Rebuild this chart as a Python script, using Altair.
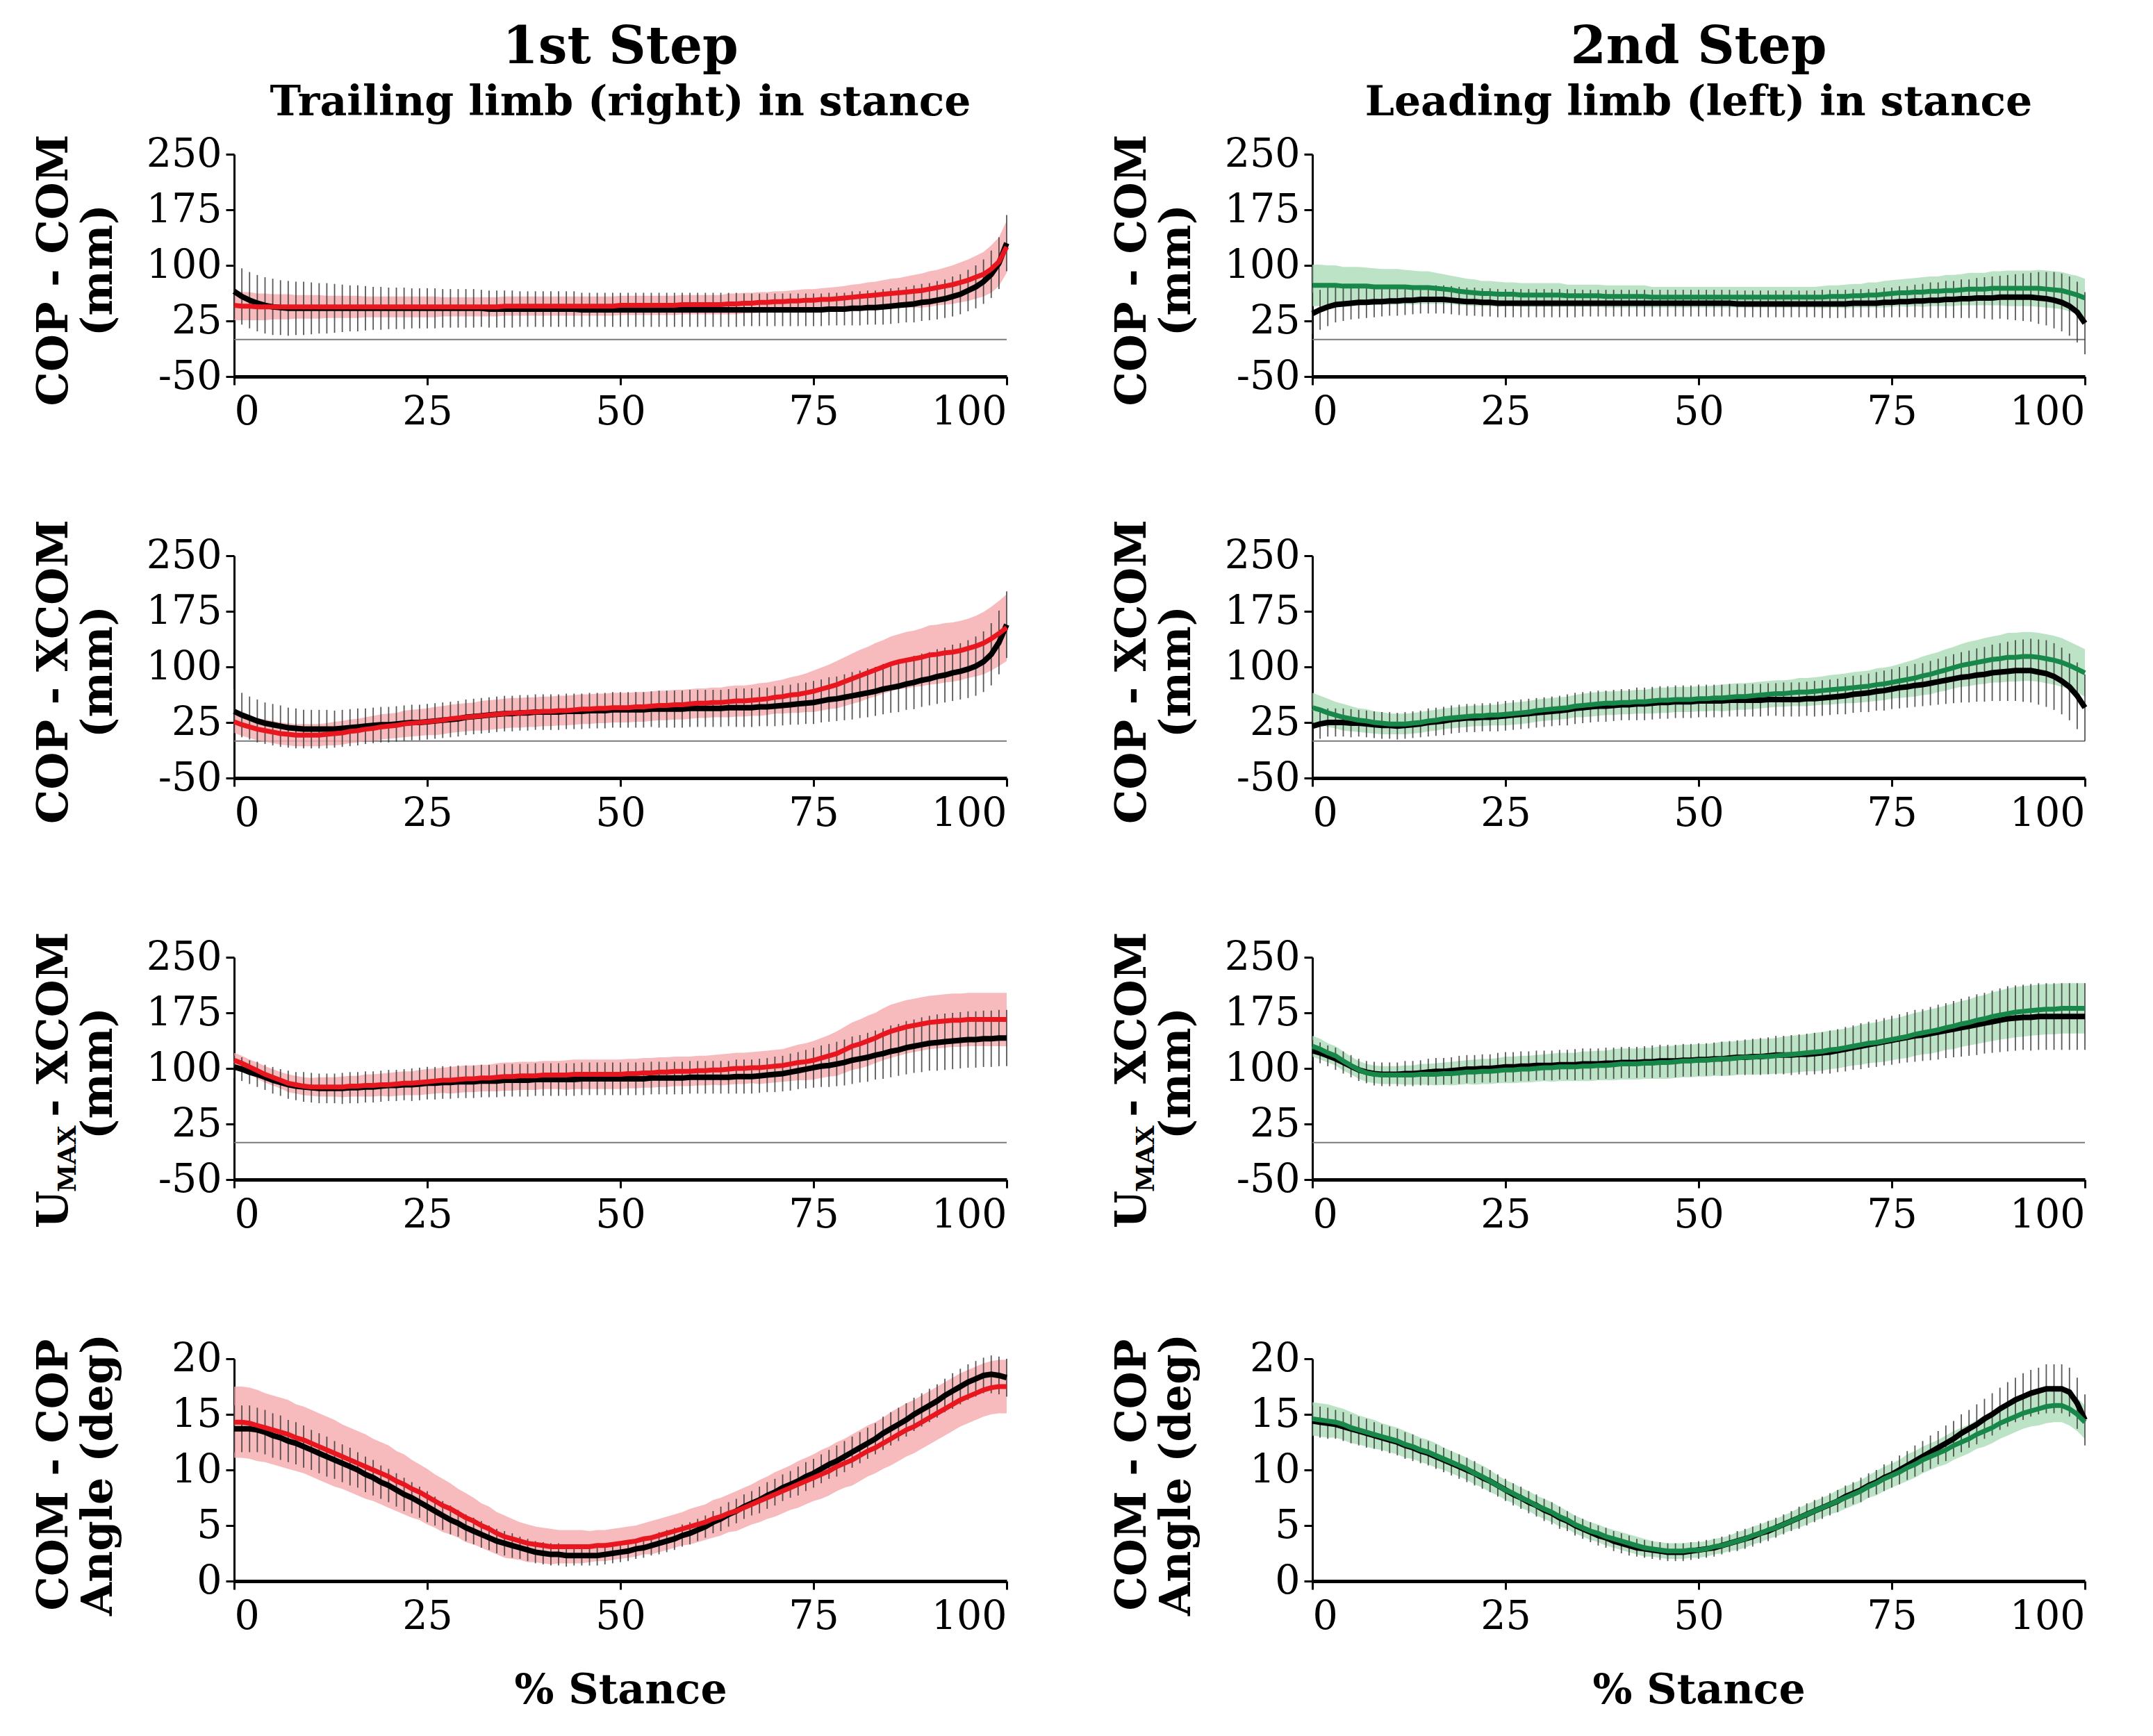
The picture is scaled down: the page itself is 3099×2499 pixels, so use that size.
import pandas as pd
import altair as alt

FONT = "DejaVu Serif"
RED = "#e8161e"
RED_BAND = "#f5a9ad"
GREEN = "#17874a"
GREEN_BAND = "#acdcb8"

stance = list(range(101))

# ---------------- COP - COM (mm) ----------------
cop_com_1_black = [65, 58, 53, 49, 46, 44, 43, 42, 42, 42,
                   42, 42, 42, 42, 42, 42, 42, 42, 42, 42,
                   42, 42, 42, 42, 42, 42, 42, 42, 42, 42,
                   42, 42, 42, 41, 41, 41, 41, 41, 41, 41,
                   41, 41, 41, 41, 41, 40, 40, 40, 40, 40,
                   40, 40, 40, 40, 40, 40, 40, 40, 40, 40,
                   40, 40, 40, 40, 40, 40, 40, 40, 40, 40,
                   40, 40, 40, 40, 40, 40, 40, 41, 41, 41,
                   42, 42, 43, 43, 44, 45, 46, 47, 48, 50,
                   51, 53, 55, 58, 61, 66, 71, 78, 88, 103,
                   130]
cop_com_1_black_sd = [38, 38, 38, 38, 38, 38, 37, 37, 36, 36,
                      35, 34, 34, 33, 32, 31, 31, 30, 29, 29,
                      28, 28, 28, 27, 27, 27, 27, 26, 26, 26,
                      26, 26, 25, 25, 25, 25, 25, 24, 24, 24,
                      24, 24, 24, 24, 24, 23, 23, 23, 23, 23,
                      23, 23, 23, 23, 23, 23, 23, 23, 23, 23,
                      23, 23, 23, 23, 23, 23, 22, 22, 22, 22,
                      22, 22, 22, 22, 22, 22, 22, 22, 22, 22,
                      23, 23, 23, 23, 24, 24, 24, 24, 25, 25,
                      25, 26, 26, 27, 27, 28, 29, 30, 32, 35,
                      38]
cop_com_1_red = [46, 45, 45, 44, 44, 44, 44, 44, 44, 44,
                 44, 44, 44, 44, 44, 44, 44, 44, 44, 44,
                 44, 44, 44, 44, 44, 44, 44, 44, 44, 44,
                 44, 44, 44, 44, 44, 45, 45, 45, 45, 45,
                 45, 45, 45, 45, 45, 45, 45, 45, 45, 45,
                 46, 46, 46, 46, 46, 46, 46, 46, 47, 47,
                 47, 47, 47, 47, 48, 48, 49, 49, 50, 50,
                 51, 51, 52, 52, 53, 53, 54, 54, 55, 56,
                 57, 58, 59, 60, 61, 62, 63, 64, 65, 66,
                 68, 70, 72, 74, 77, 80, 84, 88, 95, 105,
                 125]
cop_com_1_red_sd = [20, 19, 19, 18, 18, 17, 17, 17, 16, 16,
                    16, 16, 15, 15, 15, 15, 15, 14, 14, 14,
                    14, 14, 14, 14, 14, 14, 14, 13, 13, 13,
                    13, 13, 13, 13, 13, 13, 13, 13, 13, 13,
                    13, 13, 13, 13, 13, 13, 13, 13, 13, 13,
                    13, 13, 13, 13, 13, 13, 13, 13, 13, 13,
                    13, 13, 13, 13, 14, 14, 14, 14, 14, 14,
                    14, 14, 14, 15, 15, 15, 15, 16, 16, 16,
                    17, 17, 18, 18, 19, 20, 20, 21, 22, 23,
                    24, 24, 25, 26, 27, 28, 29, 30, 32, 33,
                    35]
cop_com_2_black = [35, 40, 44, 47, 48, 49, 50, 50, 51, 51,
                   52, 52, 53, 53, 54, 54, 54, 54, 53, 52,
                   51, 51, 50, 50, 49, 49, 49, 49, 49, 49,
                   49, 49, 49, 49, 49, 49, 49, 49, 49, 49,
                   49, 49, 49, 49, 49, 49, 49, 49, 49, 49,
                   49, 49, 49, 49, 49, 48, 48, 48, 48, 48,
                   48, 48, 48, 48, 48, 48, 48, 48, 48, 48,
                   49, 49, 49, 49, 50, 50, 51, 51, 52, 52,
                   53, 53, 54, 54, 55, 55, 56, 56, 56, 57,
                   57, 57, 57, 57, 56, 55, 53, 50, 45, 37,
                   22]
cop_com_2_black_sd = [28, 27, 26, 24, 23, 22, 22, 21, 21, 20,
                      20, 20, 20, 19, 19, 19, 19, 19, 19, 19,
                      19, 19, 19, 19, 19, 19, 19, 19, 19, 19,
                      19, 19, 19, 19, 19, 18, 18, 18, 18, 18,
                      18, 18, 18, 18, 18, 18, 18, 18, 18, 18,
                      18, 18, 18, 18, 18, 18, 18, 18, 18, 18,
                      18, 18, 18, 18, 18, 18, 19, 19, 19, 19,
                      19, 19, 19, 20, 20, 20, 21, 21, 22, 23,
                      24, 24, 25, 25, 26, 26, 27, 28, 29, 29,
                      30, 31, 32, 33, 35, 36, 38, 39, 40, 41,
                      42]
cop_com_2_green = [73, 73, 73, 73, 72, 72, 72, 72, 71, 71,
                   71, 71, 71, 70, 70, 70, 69, 68, 67, 65,
                   64, 63, 62, 62, 61, 61, 61, 60, 60, 60,
                   60, 60, 60, 59, 59, 59, 59, 59, 58, 58,
                   58, 58, 58, 58, 57, 57, 57, 57, 57, 57,
                   57, 57, 57, 57, 57, 57, 57, 57, 57, 57,
                   57, 57, 57, 57, 57, 57, 57, 58, 58, 58,
                   59, 59, 60, 60, 61, 62, 63, 63, 64, 64,
                   65, 65, 66, 66, 67, 68, 68, 68, 69, 69,
                   69, 69, 69, 69, 69, 68, 67, 66, 63, 60,
                   56]
cop_com_2_green_sd = [28, 28, 27, 27, 26, 26, 26, 25, 25, 24,
                      24, 24, 23, 23, 22, 22, 21, 20, 19, 19,
                      18, 18, 17, 17, 17, 16, 16, 16, 16, 16,
                      16, 16, 16, 15, 15, 15, 15, 15, 15, 15,
                      15, 15, 15, 15, 14, 14, 14, 14, 14, 14,
                      14, 14, 14, 14, 14, 14, 14, 14, 14, 14,
                      14, 14, 14, 14, 14, 14, 15, 15, 15, 16,
                      16, 16, 17, 17, 18, 18, 18, 19, 19, 20,
                      20, 20, 21, 21, 21, 22, 22, 22, 23, 23,
                      24, 24, 24, 24, 25, 25, 25, 25, 25, 26,
                      26]

# ---------------- COP - XCOM (mm) ----------------
cop_xcom_1_black = [40, 35, 31, 27, 24, 22, 20, 18, 17, 16,
                    16, 16, 16, 16, 17, 18, 19, 20, 21, 22,
                    22, 23, 24, 25, 25, 26, 27, 28, 29, 30,
                    32, 33, 34, 35, 36, 37, 37, 38, 38, 39,
                    39, 39, 39, 40, 40, 40, 41, 41, 41, 42,
                    42, 42, 42, 42, 43, 43, 43, 43, 43, 44,
                    44, 44, 44, 44, 45, 45, 45, 45, 46, 46,
                    47, 48, 49, 50, 51, 52, 54, 56, 57, 59,
                    61, 63, 65, 67, 70, 72, 74, 77, 79, 82,
                    84, 87, 89, 92, 94, 97, 101, 107, 117, 133,
                    157]
cop_xcom_1_black_sd = [30, 30, 29, 29, 28, 28, 28, 27, 27, 26,
                       26, 26, 26, 25, 25, 25, 25, 24, 24, 24,
                       24, 24, 24, 24, 24, 24, 24, 24, 24, 24,
                       24, 24, 24, 24, 24, 24, 24, 24, 24, 24,
                       24, 24, 24, 24, 24, 24, 24, 24, 24, 24,
                       24, 24, 24, 24, 24, 25, 25, 25, 25, 25,
                       25, 25, 25, 25, 25, 26, 26, 26, 26, 26,
                       27, 27, 27, 28, 28, 29, 29, 30, 30, 31,
                       32, 32, 33, 33, 34, 34, 35, 35, 36, 36,
                       36, 37, 37, 38, 38, 39, 40, 41, 42, 43,
                       45]
cop_xcom_1_red = [26, 22, 19, 16, 14, 12, 10, 9, 8, 8,
                  8, 8, 9, 10, 11, 13, 14, 16, 17, 19,
                  20, 21, 23, 24, 25, 26, 27, 28, 30, 31,
                  32, 33, 34, 35, 36, 37, 38, 38, 39, 39,
                  40, 40, 41, 41, 42, 43, 43, 44, 44, 45,
                  45, 45, 46, 46, 47, 48, 48, 49, 49, 50,
                  51, 51, 52, 52, 53, 54, 54, 55, 56, 57,
                  59, 60, 62, 63, 65, 67, 70, 73, 76, 80,
                  84, 88, 92, 96, 100, 104, 107, 109, 111, 113,
                  116, 117, 119, 120, 122, 125, 128, 132, 138, 145,
                  153]
cop_xcom_1_red_sd = [15, 15, 15, 15, 15, 15, 15, 15, 15, 15,
                     15, 15, 15, 16, 16, 16, 16, 16, 17, 17,
                     17, 17, 18, 18, 18, 18, 19, 19, 19, 19,
                     19, 19, 20, 20, 20, 20, 20, 20, 20, 20,
                     20, 20, 20, 20, 20, 20, 20, 20, 20, 20,
                     20, 20, 20, 20, 20, 20, 20, 20, 20, 20,
                     20, 20, 20, 20, 21, 21, 21, 21, 22, 22,
                     22, 23, 24, 25, 26, 28, 29, 30, 32, 33,
                     34, 35, 35, 36, 36, 37, 37, 38, 38, 39,
                     40, 40, 40, 40, 40, 40, 41, 42, 43, 44,
                     45]
cop_xcom_2_black = [20, 23, 25, 25, 25, 24, 24, 23, 22, 21,
                    21, 20, 21, 22, 23, 25, 26, 27, 29, 30,
                    31, 31, 32, 32, 33, 34, 35, 36, 37, 38,
                    39, 40, 41, 42, 44, 45, 46, 47, 47, 48,
                    49, 49, 50, 50, 51, 52, 52, 53, 53, 53,
                    54, 54, 54, 54, 55, 55, 55, 55, 55, 56,
                    56, 56, 56, 56, 57, 57, 58, 59, 60, 61,
                    63, 64, 65, 67, 68, 70, 72, 73, 75, 76,
                    78, 80, 82, 84, 86, 87, 89, 90, 92, 93,
                    94, 95, 95, 95, 93, 91, 87, 81, 73, 61,
                    45]
cop_xcom_2_black_sd = [20, 20, 19, 19, 19, 19, 18, 18, 18, 18,
                       18, 18, 18, 18, 18, 19, 19, 19, 19, 19,
                       19, 19, 19, 19, 20, 20, 20, 20, 20, 20,
                       20, 20, 20, 21, 21, 21, 21, 21, 21, 21,
                       21, 21, 22, 22, 22, 22, 22, 22, 22, 22,
                       22, 22, 22, 22, 22, 22, 22, 22, 22, 22,
                       22, 23, 23, 23, 23, 24, 24, 24, 24, 25,
                       25, 25, 26, 26, 27, 27, 28, 28, 29, 29,
                       30, 31, 32, 33, 34, 35, 36, 37, 38, 39,
                       40, 41, 42, 43, 44, 45, 45, 45, 45, 45,
                       45]
cop_xcom_2_green = [45, 42, 38, 35, 32, 30, 28, 27, 25, 24,
                    23, 23, 23, 24, 25, 27, 28, 30, 31, 32,
                    33, 34, 34, 35, 35, 36, 37, 38, 39, 41,
                    42, 43, 44, 45, 47, 48, 49, 50, 51, 51,
                    52, 52, 53, 53, 54, 55, 55, 56, 56, 56,
                    57, 57, 58, 58, 59, 60, 60, 61, 62, 63,
                    64, 64, 65, 66, 66, 67, 68, 69, 70, 71,
                    72, 73, 74, 76, 77, 79, 81, 83, 85, 88,
                    90, 93, 96, 99, 102, 104, 106, 108, 110, 111,
                    113, 113, 114, 114, 113, 111, 109, 106, 102, 97,
                    92]
cop_xcom_2_green_sd = [20, 19, 19, 18, 18, 17, 16, 16, 15, 15,
                       14, 14, 14, 14, 14, 14, 14, 14, 14, 14,
                       14, 14, 14, 14, 14, 15, 15, 15, 15, 15,
                       15, 15, 15, 15, 15, 16, 16, 16, 16, 16,
                       16, 16, 16, 16, 17, 17, 17, 17, 17, 17,
                       17, 17, 17, 18, 18, 18, 18, 18, 18, 18,
                       18, 18, 18, 19, 19, 19, 19, 20, 20, 20,
                       21, 21, 21, 22, 22, 22, 23, 24, 25, 26,
                       27, 27, 28, 28, 29, 30, 30, 31, 31, 32,
                       33, 33, 33, 33, 33, 33, 33, 33, 32, 32,
                       32]

# ---------------- UMAX - XCOM (mm) ----------------
umax_1_black = [102, 99, 95, 92, 88, 84, 81, 78, 76, 75,
                74, 73, 73, 73, 73, 74, 74, 75, 75, 76,
                77, 77, 78, 78, 79, 80, 80, 81, 81, 82,
                82, 82, 83, 83, 83, 84, 84, 84, 84, 85,
                85, 85, 85, 85, 85, 86, 86, 86, 86, 86,
                86, 86, 86, 86, 87, 87, 87, 87, 87, 88,
                88, 88, 88, 88, 88, 89, 89, 89, 90, 91,
                92, 93, 95, 97, 99, 101, 103, 104, 106, 108,
                111, 113, 115, 118, 120, 123, 125, 128, 130, 132,
                134, 135, 136, 137, 138, 139, 139, 140, 140, 141,
                141]
umax_1_black_sd = [15, 16, 16, 17, 17, 18, 18, 19, 19, 20,
                   20, 20, 20, 20, 21, 21, 21, 21, 21, 21,
                   21, 21, 21, 22, 22, 22, 22, 22, 22, 22,
                   22, 22, 22, 22, 22, 22, 22, 22, 22, 22,
                   22, 22, 22, 22, 22, 22, 22, 22, 22, 22,
                   22, 22, 22, 22, 22, 22, 22, 22, 22, 22,
                   22, 22, 22, 22, 22, 23, 23, 23, 23, 23,
                   24, 24, 25, 25, 26, 27, 28, 29, 30, 31,
                   32, 32, 33, 33, 34, 35, 35, 36, 36, 37,
                   37, 38, 38, 38, 38, 38, 38, 38, 38, 38,
                   38]
umax_1_red = [111, 107, 102, 97, 92, 88, 84, 80, 78, 76,
              75, 75, 75, 75, 75, 76, 76, 77, 77, 78,
              78, 79, 80, 80, 81, 82, 83, 84, 84, 85,
              86, 86, 87, 87, 88, 89, 89, 90, 90, 90,
              91, 91, 91, 91, 92, 92, 92, 92, 92, 92,
              92, 93, 93, 94, 94, 95, 95, 96, 96, 96,
              97, 97, 98, 98, 99, 100, 100, 101, 101, 102,
              103, 104, 106, 108, 109, 111, 114, 117, 120, 125,
              130, 133, 137, 141, 146, 150, 153, 156, 158, 160,
              162, 163, 164, 165, 165, 166, 166, 166, 166, 166,
              166]
umax_1_red_sd = [10, 10, 10, 11, 11, 11, 11, 12, 12, 12,
                 12, 13, 13, 13, 14, 14, 14, 15, 15, 15,
                 16, 16, 16, 16, 17, 17, 17, 17, 18, 18,
                 18, 18, 18, 18, 19, 19, 19, 19, 19, 19,
                 19, 19, 19, 20, 20, 20, 20, 20, 20, 20,
                 20, 20, 20, 20, 20, 20, 20, 20, 20, 20,
                 20, 20, 20, 21, 21, 21, 21, 21, 22, 22,
                 22, 22, 23, 24, 25, 26, 27, 28, 30, 31,
                 32, 33, 34, 34, 35, 36, 36, 36, 36, 36,
                 36, 36, 36, 36, 36, 36, 36, 36, 36, 36,
                 36]
umax_2_black = [124, 121, 117, 113, 108, 103, 98, 95, 93, 92,
                92, 92, 93, 93, 94, 95, 96, 96, 97, 98,
                99, 99, 100, 100, 101, 102, 102, 103, 103, 104,
                104, 104, 105, 105, 105, 106, 106, 106, 107, 107,
                108, 108, 108, 109, 109, 110, 110, 110, 111, 111,
                112, 112, 113, 113, 114, 115, 115, 116, 116, 117,
                118, 118, 118, 119, 119, 120, 121, 122, 124, 126,
                128, 130, 132, 134, 136, 138, 140, 142, 144, 145,
                147, 149, 151, 153, 155, 157, 159, 161, 163, 165,
                167, 168, 169, 169, 170, 170, 170, 170, 170, 170,
                170]
umax_2_black_sd = [14, 14, 14, 15, 15, 15, 15, 15, 16, 16,
                   16, 16, 17, 17, 17, 18, 18, 18, 18, 19,
                   19, 19, 19, 19, 20, 20, 20, 20, 20, 20,
                   20, 20, 20, 20, 21, 21, 21, 21, 21, 21,
                   21, 21, 21, 21, 22, 22, 22, 22, 22, 22,
                   22, 22, 22, 23, 23, 23, 24, 24, 25, 25,
                   26, 26, 27, 27, 28, 28, 28, 29, 29, 30,
                   30, 31, 31, 32, 32, 33, 33, 34, 35, 35,
                   36, 37, 37, 38, 39, 40, 41, 41, 42, 43,
                   44, 44, 44, 45, 45, 45, 45, 45, 45, 45,
                   45]
umax_2_green = [130, 126, 121, 117, 110, 104, 98, 94, 92, 91,
                91, 91, 91, 91, 92, 92, 92, 93, 93, 94,
                95, 95, 96, 96, 97, 98, 98, 99, 99, 100,
                101, 101, 102, 102, 102, 103, 103, 104, 104, 105,
                106, 106, 106, 107, 107, 108, 108, 109, 110, 110,
                111, 111, 112, 113, 113, 114, 115, 115, 116, 116,
                117, 118, 119, 120, 121, 122, 123, 125, 126, 128,
                130, 132, 134, 135, 137, 139, 141, 143, 146, 148,
                150, 152, 155, 157, 160, 162, 165, 167, 170, 172,
                174, 176, 177, 178, 179, 180, 180, 181, 181, 181,
                181]
umax_2_green_sd = [14, 14, 13, 13, 13, 12, 12, 12, 12, 12,
                   12, 12, 13, 13, 14, 14, 15, 15, 16, 16,
                   16, 17, 17, 17, 17, 18, 18, 18, 18, 18,
                   18, 19, 19, 19, 19, 20, 20, 20, 20, 21,
                   21, 21, 21, 21, 21, 22, 22, 22, 22, 22,
                   22, 22, 22, 23, 23, 23, 23, 24, 24, 24,
                   24, 25, 25, 25, 25, 26, 26, 26, 26, 26,
                   26, 27, 27, 27, 28, 28, 28, 29, 29, 29,
                   30, 30, 30, 31, 31, 31, 32, 32, 33, 33,
                   34, 34, 34, 34, 34, 34, 34, 34, 34, 34,
                   34]

# ---------------- COM - COP Angle (deg) ----------------
angle_1_black = [13.7, 13.7, 13.7, 13.6, 13.4, 13.1, 12.9, 12.6, 12.4, 12.1,
                 11.8, 11.5, 11.2, 10.9, 10.6, 10.3, 10.0, 9.6, 9.3, 8.9,
                 8.6, 8.2, 7.8, 7.5, 7.1, 6.7, 6.3, 5.9, 5.5, 5.2,
                 4.8, 4.5, 4.2, 3.9, 3.6, 3.4, 3.2, 3.0, 2.8, 2.6,
                 2.5, 2.4, 2.4, 2.3, 2.3, 2.3, 2.3, 2.3, 2.4, 2.5,
                 2.6, 2.7, 2.9, 3.0, 3.2, 3.4, 3.6, 3.8, 4.1, 4.3,
                 4.6, 4.9, 5.3, 5.6, 6.0, 6.3, 6.7, 7.0, 7.3, 7.7,
                 8.0, 8.4, 8.7, 9.0, 9.4, 9.7, 10.1, 10.5, 10.8, 11.2,
                 11.6, 12.0, 12.4, 12.8, 13.3, 13.7, 14.1, 14.5, 15.0, 15.4,
                 15.8, 16.2, 16.7, 17.1, 17.5, 17.9, 18.2, 18.5, 18.6, 18.5,
                 18.3]
angle_1_black_sd = [2.1, 2.1, 2.1, 2.0, 2.0, 2.0, 2.0, 1.9, 1.9, 1.9,
                    1.8, 1.8, 1.8, 1.7, 1.7, 1.7, 1.6, 1.6, 1.6, 1.5,
                    1.5, 1.5, 1.5, 1.4, 1.4, 1.4, 1.3, 1.3, 1.3, 1.2,
                    1.2, 1.2, 1.2, 1.1, 1.1, 1.1, 1.1, 1.0, 1.0, 1.0,
                    1.0, 1.0, 1.0, 1.0, 0.9, 0.9, 0.9, 0.9, 0.9, 0.9,
                    0.9, 0.9, 0.9, 0.9, 0.9, 1.0, 1.0, 1.0, 1.0, 1.0,
                    1.0, 1.0, 1.0, 1.1, 1.1, 1.1, 1.1, 1.1, 1.2, 1.2,
                    1.2, 1.2, 1.2, 1.3, 1.3, 1.3, 1.3, 1.3, 1.4, 1.4,
                    1.4, 1.4, 1.4, 1.4, 1.5, 1.5, 1.5, 1.5, 1.5, 1.5,
                    1.5, 1.5, 1.5, 1.6, 1.6, 1.6, 1.6, 1.6, 1.7, 1.7,
                    1.7]
angle_1_red = [14.3, 14.3, 14.2, 14.0, 13.8, 13.6, 13.4, 13.2, 12.9, 12.7,
               12.4, 12.1, 11.8, 11.5, 11.2, 10.9, 10.6, 10.3, 10.0, 9.7,
               9.4, 9.0, 8.7, 8.3, 8.0, 7.6, 7.2, 6.8, 6.5, 6.1,
               5.7, 5.4, 5.0, 4.7, 4.3, 4.0, 3.8, 3.6, 3.4, 3.3,
               3.2, 3.1, 3.1, 3.1, 3.1, 3.1, 3.1, 3.2, 3.2, 3.3,
               3.4, 3.5, 3.6, 3.8, 3.9, 4.1, 4.3, 4.5, 4.7, 4.9,
               5.1, 5.3, 5.6, 5.8, 6.1, 6.3, 6.6, 6.9, 7.2, 7.5,
               7.8, 8.1, 8.4, 8.7, 9.0, 9.3, 9.6, 9.9, 10.3, 10.6,
               10.9, 11.3, 11.7, 12.0, 12.4, 12.8, 13.2, 13.6, 13.9, 14.3,
               14.7, 15.1, 15.5, 15.9, 16.3, 16.6, 16.9, 17.2, 17.4, 17.5,
               17.5]
angle_1_red_sd = [3.2, 3.2, 3.2, 3.2, 3.1, 3.1, 3.1, 3.1, 3.0, 3.0,
                  3.0, 3.0, 3.0, 3.0, 2.9, 2.9, 2.9, 2.9, 2.8, 2.8,
                  2.8, 2.7, 2.7, 2.6, 2.5, 2.5, 2.4, 2.4, 2.3, 2.2,
                  2.2, 2.1, 2.0, 2.0, 1.9, 1.9, 1.8, 1.7, 1.7, 1.6,
                  1.6, 1.6, 1.5, 1.5, 1.5, 1.5, 1.4, 1.4, 1.4, 1.4,
                  1.4, 1.4, 1.4, 1.4, 1.5, 1.5, 1.5, 1.5, 1.5, 1.6,
                  1.6, 1.6, 1.7, 1.7, 1.7, 1.8, 1.8, 1.8, 1.9, 1.9,
                  2.0, 2.0, 2.0, 2.1, 2.1, 2.1, 2.2, 2.2, 2.2, 2.2,
                  2.3, 2.3, 2.3, 2.3, 2.3, 2.4, 2.4, 2.4, 2.4, 2.4,
                  2.4, 2.4, 2.4, 2.4, 2.4, 2.4, 2.4, 2.4, 2.4, 2.4,
                  2.4]
angle_2_black = [14.4, 14.3, 14.2, 14.1, 13.9, 13.7, 13.5, 13.3, 13.1, 12.9,
                 12.7, 12.5, 12.2, 12.0, 11.7, 11.5, 11.2, 10.9, 10.6, 10.3,
                 10.0, 9.7, 9.3, 9.0, 8.6, 8.2, 7.8, 7.5, 7.1, 6.8,
                 6.4, 6.1, 5.7, 5.4, 5.0, 4.7, 4.4, 4.1, 3.9, 3.6,
                 3.4, 3.2, 3.0, 2.9, 2.8, 2.7, 2.6, 2.6, 2.6, 2.7,
                 2.8, 2.9, 3.0, 3.2, 3.4, 3.6, 3.8, 4.0, 4.3, 4.5,
                 4.8, 5.1, 5.4, 5.7, 6.0, 6.3, 6.6, 6.9, 7.2, 7.6,
                 7.9, 8.2, 8.6, 8.9, 9.3, 9.6, 10.0, 10.4, 10.8, 11.2,
                 11.6, 12.0, 12.4, 12.8, 13.3, 13.7, 14.1, 14.6, 15.0, 15.5,
                 15.9, 16.3, 16.6, 16.9, 17.1, 17.3, 17.3, 17.3, 17.0, 16.0,
                 14.5]
angle_2_black_sd = [1.4, 1.4, 1.4, 1.3, 1.3, 1.3, 1.3, 1.3, 1.2, 1.2,
                    1.2, 1.2, 1.2, 1.2, 1.1, 1.1, 1.1, 1.1, 1.1, 1.1,
                    1.1, 1.1, 1.0, 1.0, 1.0, 1.0, 1.0, 1.0, 1.0, 1.0,
                    1.0, 1.0, 1.0, 0.9, 0.9, 0.9, 0.9, 0.9, 0.9, 0.9,
                    0.9, 0.9, 0.8, 0.8, 0.8, 0.8, 0.8, 0.8, 0.8, 0.8,
                    0.8, 0.8, 0.8, 0.8, 0.8, 0.9, 0.9, 0.9, 0.9, 0.9,
                    0.9, 0.9, 0.9, 1.0, 1.0, 1.0, 1.0, 1.0, 1.0, 1.0,
                    1.0, 1.1, 1.1, 1.1, 1.2, 1.2, 1.3, 1.3, 1.4, 1.4,
                    1.5, 1.5, 1.6, 1.6, 1.7, 1.7, 1.8, 1.8, 1.9, 1.9,
                    2.0, 2.0, 2.1, 2.1, 2.1, 2.2, 2.2, 2.2, 2.2, 2.3,
                    2.3]
angle_2_green = [14.6, 14.5, 14.4, 14.3, 14.1, 13.8, 13.6, 13.4, 13.2, 13.0,
                 12.8, 12.6, 12.3, 12.1, 11.8, 11.6, 11.3, 11.0, 10.7, 10.4,
                 10.1, 9.7, 9.4, 9.0, 8.6, 8.2, 7.9, 7.5, 7.2, 6.8,
                 6.5, 6.2, 5.8, 5.5, 5.1, 4.8, 4.5, 4.3, 4.0, 3.8,
                 3.6, 3.4, 3.2, 3.0, 2.9, 2.8, 2.7, 2.7, 2.7, 2.8,
                 2.8, 2.9, 3.1, 3.2, 3.4, 3.6, 3.8, 4.1, 4.3, 4.6,
                 4.8, 5.1, 5.4, 5.7, 6.0, 6.3, 6.6, 6.9, 7.2, 7.5,
                 7.8, 8.1, 8.5, 8.8, 9.2, 9.5, 9.8, 10.2, 10.5, 10.9,
                 11.2, 11.5, 11.8, 12.2, 12.5, 12.8, 13.2, 13.5, 13.8, 14.2,
                 14.5, 14.8, 15.1, 15.3, 15.5, 15.7, 15.8, 15.8, 15.5, 15.0,
                 14.3]
angle_2_green_sd = [1.5, 1.5, 1.5, 1.4, 1.4, 1.4, 1.3, 1.3, 1.3, 1.2,
                    1.2, 1.2, 1.2, 1.1, 1.1, 1.1, 1.1, 1.0, 1.0, 1.0,
                    1.0, 1.0, 1.0, 1.0, 0.9, 0.9, 0.9, 0.9, 0.9, 0.9,
                    0.9, 0.9, 0.9, 0.8, 0.8, 0.8, 0.8, 0.8, 0.8, 0.8,
                    0.8, 0.8, 0.8, 0.8, 0.7, 0.7, 0.7, 0.7, 0.7, 0.7,
                    0.7, 0.7, 0.7, 0.7, 0.7, 0.8, 0.8, 0.8, 0.8, 0.8,
                    0.8, 0.8, 0.8, 0.9, 0.9, 0.9, 0.9, 0.9, 1.0, 1.0,
                    1.0, 1.0, 1.0, 1.1, 1.1, 1.1, 1.1, 1.2, 1.2, 1.2,
                    1.2, 1.2, 1.3, 1.3, 1.3, 1.3, 1.3, 1.4, 1.4, 1.4,
                    1.4, 1.4, 1.4, 1.4, 1.5, 1.5, 1.5, 1.5, 1.5, 1.5,
                    1.5]

MM_TICKS = [-50, 25, 100, 175, 250]
DEG_TICKS = [0, 5, 10, 15, 20]
X_TICKS = [0, 25, 50, 75, 100]

W, H = 1112, 320
TITLE_Y = 167


def title_layer(pieces):
    # y axis title drawn as rotated text so that the subscript can be set
    layers = []
    one = pd.DataFrame({"k": [0]})
    for text, size, x, y, align in pieces:
        layers.append(
            alt.Chart(one)
            .mark_text(angle=270, align=align, baseline="alphabetic",
                       font=FONT, fontWeight="bold", fontSize=size, color="black")
            .encode(x=alt.value(x), y=alt.value(y), text=alt.value(text))
        )
    return layers


def simple_title(line1, line2):
    return title_layer([(line1, 62, -240, TITLE_Y, "center"),
                        (line2, 62, -176, TITLE_Y, "center")])


def make_panel(black, black_sd, col, col_sd, line_color, band_color,
               ticks, title_pieces, top_title=None, bottom=False):
    df = pd.DataFrame({"x": stance, "b": black, "bsd": black_sd,
                       "c": col, "csd": col_sd})
    lo_hi = dict(b_lo="datum.b - datum.bsd", b_hi="datum.b + datum.bsd",
                 c_lo="datum.c - datum.csd", c_hi="datum.c + datum.csd")
    base = alt.Chart(df).transform_calculate(**lo_hi)

    xscale = alt.Scale(domain=[0, 100], nice=False, zero=False)
    yscale = alt.Scale(domain=[ticks[0], ticks[-1]], nice=False, zero=False)
    xaxis = alt.Axis(values=X_TICKS, title="% Stance" if bottom else None,
                     domainWidth=5, labelPadding=11, titleFont=FONT,
                     titleFontSize=60, titleFontWeight="bold", titlePadding=49)
    yaxis = alt.Axis(values=ticks, title=None, labelExpr="datum.value",
                     domainWidth=3)
    X = alt.X("x:Q", scale=xscale, axis=xaxis)

    band = base.mark_area(color=band_color, opacity=0.8).encode(
        x=X, y=alt.Y("c_lo:Q", scale=yscale, axis=yaxis), y2="c_hi:Q")
    bars = base.mark_rule(color="#2e2e2e", strokeWidth=1.8, opacity=0.8).encode(
        x=X, y=alt.Y("b_lo:Q", scale=yscale, axis=yaxis), y2="b_hi:Q")
    bline = base.mark_line(color="black", strokeWidth=8).encode(
        x=X, y=alt.Y("b:Q", scale=yscale, axis=yaxis))
    cline = base.mark_line(color=line_color, strokeWidth=7).encode(
        x=X, y=alt.Y("c:Q", scale=yscale, axis=yaxis))

    layers = [band, bars, bline, cline]
    if ticks[0] < 0:
        zero = alt.Chart(pd.DataFrame({"k": [0]})).mark_rule(
            color="#7a7a7a", strokeWidth=2).encode(
            x=alt.datum(0, scale=xscale), x2=alt.datum(100),
            y=alt.datum(0, scale=yscale))
        layers.insert(0, zero)
    layers += title_pieces

    props = dict(width=W, height=H)
    if top_title:
        props["title"] = alt.TitleParams(
            text=top_title[0], subtitle=top_title[1], font=FONT, fontSize=74,
            fontWeight="bold", subtitleFont=FONT, subtitleFontSize=60,
            subtitleFontWeight="bold", subtitleColor="black", color="black",
            anchor="middle", frame="group", offset=14, subtitlePadding=12)
    return alt.layer(*layers).properties(**props)


umax_title = [("U", 62, -240, 390, "left"),
              ("MAX", 36, -228, 338, "left"),
              (" - XCOM", 62, -240, 230, "left")]

panels = [
    make_panel(cop_com_1_black, cop_com_1_black_sd, cop_com_1_red, cop_com_1_red_sd,
               RED, RED_BAND, MM_TICKS, simple_title("COP - COM", "(mm)"),
               top_title=("1st Step", "Trailing limb (right) in stance")),
    make_panel(cop_com_2_black, cop_com_2_black_sd, cop_com_2_green, cop_com_2_green_sd,
               GREEN, GREEN_BAND, MM_TICKS, simple_title("COP - COM", "(mm)"),
               top_title=("2nd Step", "Leading limb (left) in stance")),
    make_panel(cop_xcom_1_black, cop_xcom_1_black_sd, cop_xcom_1_red, cop_xcom_1_red_sd,
               RED, RED_BAND, MM_TICKS, simple_title("COP - XCOM", "(mm)")),
    make_panel(cop_xcom_2_black, cop_xcom_2_black_sd, cop_xcom_2_green, cop_xcom_2_green_sd,
               GREEN, GREEN_BAND, MM_TICKS, simple_title("COP - XCOM", "(mm)")),
    make_panel(umax_1_black, umax_1_black_sd, umax_1_red, umax_1_red_sd,
               RED, RED_BAND, MM_TICKS,
               title_layer(umax_title) + title_layer([("(mm)", 62, -176, TITLE_Y, "center")])),
    make_panel(umax_2_black, umax_2_black_sd, umax_2_green, umax_2_green_sd,
               GREEN, GREEN_BAND, MM_TICKS,
               title_layer(umax_title) + title_layer([("(mm)", 62, -176, TITLE_Y, "center")])),
    make_panel(angle_1_black, angle_1_black_sd, angle_1_red, angle_1_red_sd,
               RED, RED_BAND, DEG_TICKS, simple_title("COM - COP", "Angle (deg)"),
               bottom=True),
    make_panel(angle_2_black, angle_2_black_sd, angle_2_green, angle_2_green_sd,
               GREEN, GREEN_BAND, DEG_TICKS, simple_title("COM - COP", "Angle (deg)"),
               bottom=True),
]

chart = (
    alt.concat(*panels, columns=2, bounds="flush",
               spacing={"row": 258, "column": 440})
    .properties(padding={"left": 38, "top": 24, "right": 5, "bottom": 5},
                background="white")
    .configure_view(stroke=None)
    .configure_axis(grid=False, labelFont=FONT, labelFontSize=57,
                    labelColor="black", domainColor="black", tickColor="black",
                    tickSize=12, tickWidth=3, labelPadding=6,
                    titleColor="black")
)

chart.save("out.html", embed_options={"renderer": "svg", "actions": False})
